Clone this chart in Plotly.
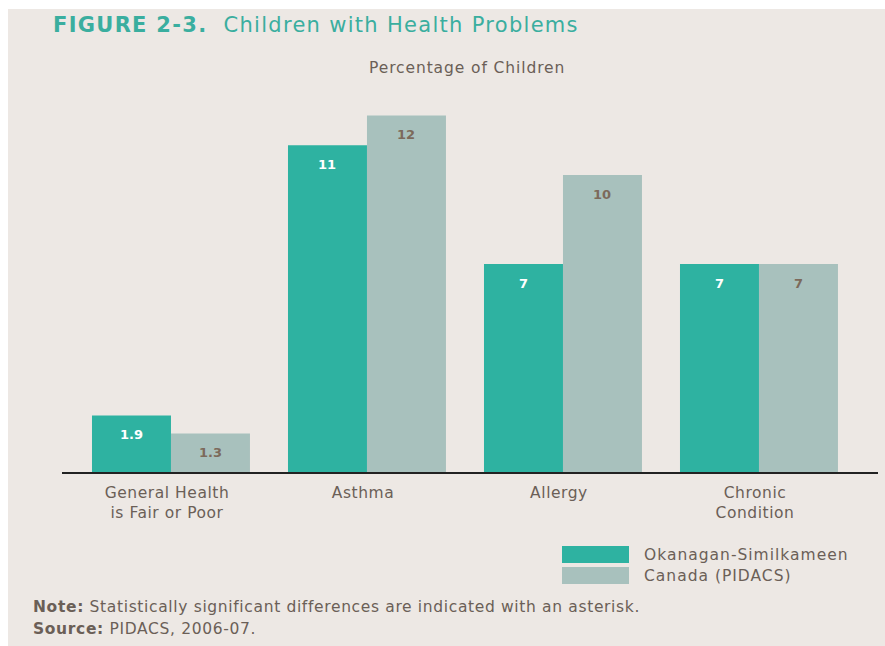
import plotly.graph_objects as go

# Data
categories = ["General Health<br>is Fair or Poor", "Asthma", "Allergy", "Chronic<br>Condition"]
okanagan = [1.9, 11, 7, 7]
canada = [1.3, 12, 10, 7]
okanagan_labels = ["1.9", "11", "7", "7"]
canada_labels = ["1.3", "12", "10", "7"]
series_names = ["Okanagan-Similkameen", "Canada (PIDACS)"]

TEAL = "#2EB2A1"
GREY = "#A8C1BD"
BG = "#EDE8E4"
TEXT = "#6B5F57"
LABEL_DARK = "#7C6A5B"
FONT = "DejaVu Sans"
BODY = 15.5


def spaced(text, px=0.7):
    """Wrap text in a span with a little extra tracking."""
    return '<span style="letter-spacing:%.2fpx">%s</span>' % (px, text)


W, H = 885, 646
L, R, T, B = 62, 7, 100, 174
plot_w = W - L - R
plot_h = H - T - B

x_idx = list(range(len(categories)))

fig = go.Figure()
fig.add_trace(go.Bar(x=x_idx, y=okanagan, name=series_names[0], marker_color=TEAL,
                     marker_line_width=0, showlegend=False))
fig.add_trace(go.Bar(x=x_idx, y=canada, name=series_names[1], marker_color=GREY,
                     marker_line_width=0, showlegend=False))

# value labels just inside the top of each bar
half = 0.2015
annotations = []
for i in x_idx:
    annotations.append(dict(x=i - half, y=okanagan[i], xref="x", yref="y", text="<b>%s</b>" % okanagan_labels[i],
                            showarrow=False, yshift=-19, font=dict(family=FONT, size=13, color="white")))
    annotations.append(dict(x=i + half, y=canada[i], xref="x", yref="y", text="<b>%s</b>" % canada_labels[i],
                            showarrow=False, yshift=-19, font=dict(family=FONT, size=13, color=LABEL_DARK)))


def px_x(px):
    return (px - L) / plot_w


def px_y(py):
    return (H - B - py) / plot_h


# title and subtitle
annotations.append(dict(x=px_x(51), y=px_y(25), xref="paper", yref="paper", xanchor="left", yanchor="middle",
                        text=spaced("<b>FIGURE 2-3.</b>  Children with Health Problems", 1.3), showarrow=False,
                        font=dict(family=FONT, size=21, color="#3AAE9F")))
annotations.append(dict(x=px_x(467), y=px_y(68), xref="paper", yref="paper", xanchor="center", yanchor="middle",
                        text=spaced("Percentage of Children", 0.9), showarrow=False,
                        font=dict(family=FONT, size=BODY, color=TEXT)))

# legend
shapes = []
legend_rows = [(series_names[0], TEAL, 554.5), (series_names[1], GREY, 575.5)]
for name, color, cy in legend_rows:
    shapes.append(dict(type="rect", xref="paper", yref="paper", x0=px_x(562), x1=px_x(629),
                       y0=px_y(cy - 8.5), y1=px_y(cy + 8.5), fillcolor=color, line_width=0))
    annotations.append(dict(x=px_x(642), y=px_y(cy), xref="paper", yref="paper", xanchor="left", yanchor="middle",
                            text=spaced(name, 1.0), showarrow=False,
                            font=dict(family=FONT, size=BODY, color=TEXT)))

# footnotes
annotations.append(dict(x=px_x(31), y=px_y(607), xref="paper", yref="paper", xanchor="left", yanchor="middle",
                        text=spaced("<b>Note:</b> Statistically significant differences are indicated with an asterisk.", 0.65),
                        showarrow=False, font=dict(family=FONT, size=BODY, color=TEXT)))
annotations.append(dict(x=px_x(31), y=px_y(629), xref="paper", yref="paper", xanchor="left", yanchor="middle",
                        text=spaced("<b>Source:</b> PIDACS, 2006-07.", 0.65),
                        showarrow=False, font=dict(family=FONT, size=BODY, color=TEXT)))

# page panel with a thin white margin on the top and left
shapes.insert(0, dict(type="rect", xref="paper", yref="paper", x0=px_x(8), x1=px_x(W + 5),
                      y0=px_y(H + 5), y1=px_y(9), fillcolor=BG, line_width=0, layer="below"))

units_px = 29.7
fig.update_layout(
    width=W, height=H,
    margin=dict(l=L, r=R, t=T, b=B, pad=0),
    paper_bgcolor="white",
    plot_bgcolor="rgba(0,0,0,0)",
    barmode="group",
    bargap=0.194,
    bargroupgap=0,
    xaxis=dict(tickmode="array", tickvals=x_idx, ticktext=[spaced(c, 0.55) for c in categories],
               range=[-0.556, -0.556 + plot_w / 196.0], showgrid=False, zeroline=False,
               showline=True, linecolor="#222222", linewidth=2, ticks="",
               ticklabelstandoff=5, ticklabelshift=-4,
               tickfont=dict(family=FONT, size=BODY, color=TEXT), fixedrange=True),
    yaxis=dict(range=[0, plot_h / units_px], visible=False, showgrid=False, zeroline=False),
    annotations=annotations,
    shapes=shapes,
    font=dict(family=FONT),
)

fig.write_html("out.html")
